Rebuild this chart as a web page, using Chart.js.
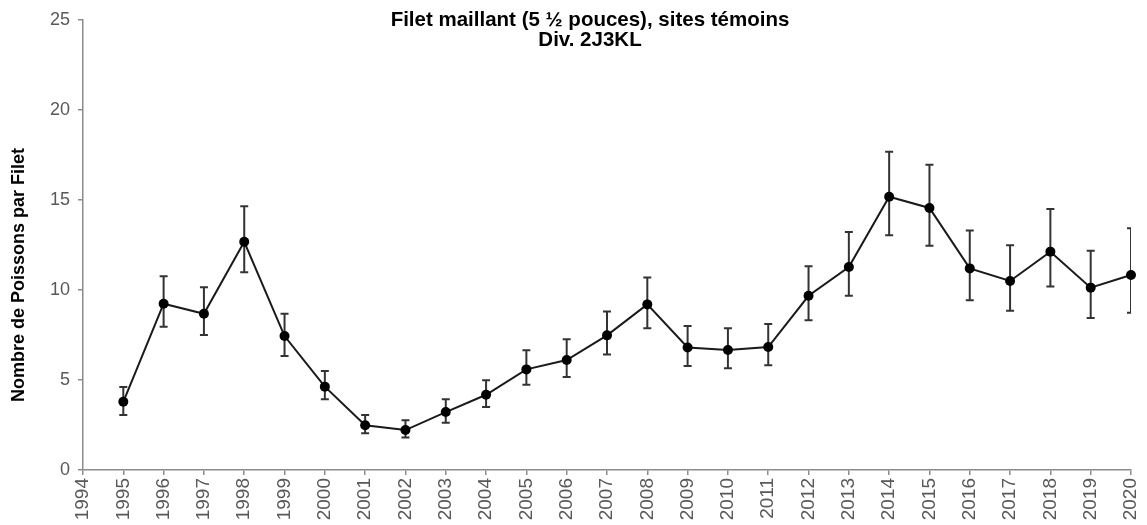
<!DOCTYPE html>
<html>
<head>
<meta charset="utf-8">
<script src="https://cdn.jsdelivr.net/npm/chart.js@4"></script>
<style>
  html, body { margin: 0; padding: 0; background: #fff; }
  #wrap { width: 1147px; height: 525px; }
</style>
</head>
<body>
<div id="wrap"><canvas id="fishChart" width="1147" height="525"></canvas></div>
<script>
const years = [1995, 1996, 1997, 1998, 1999, 2000, 2001, 2002, 2003, 2004, 2005, 2006, 2007,
  2008, 2009, 2010, 2011, 2012, 2013, 2014, 2015, 2016, 2017, 2018, 2019, 2020];
const means = [3.79, 9.24, 8.68, 12.68, 7.44, 4.63, 2.49, 2.22, 3.22, 4.18, 5.59, 6.11, 7.48,
  9.2, 6.81, 6.67, 6.83, 9.68, 11.28, 15.18, 14.56, 11.2, 10.5, 12.13, 10.13, 10.83];
const upper = [4.61, 10.76, 10.15, 14.65, 8.68, 5.5, 3.06, 2.76, 3.93, 4.98, 6.65, 7.26, 8.8,
  10.7, 8.0, 7.87, 8.11, 11.32, 13.22, 17.68, 16.96, 13.3, 12.48, 14.5, 12.18, 13.43];
const lower = [3.06, 7.96, 7.5, 10.98, 6.33, 3.93, 2.04, 1.8, 2.63, 3.5, 4.74, 5.17, 6.41,
  7.87, 5.78, 5.65, 5.82, 8.32, 9.68, 13.04, 12.46, 9.43, 8.85, 10.2, 8.44, 8.74];
const xTicks = [1994, 1995, 1996, 1997, 1998, 1999, 2000, 2001, 2002, 2003, 2004, 2005, 2006, 2007,
  2008, 2009, 2010, 2011, 2012, 2013, 2014, 2015, 2016, 2017, 2018, 2019, 2020];
const yTicks = [0, 5, 10, 15, 20, 25];
const titleLines = ["Filet maillant (5 ½ pouces), sites témoins", "Div. 2J3KL"];
const yTitle = "Nombre de Poissons par Filet";

const FONT = "'Liberation Sans', Arial, sans-serif";
const axisGray = "#8c8c8c";

// error bars drawn from the same scales as the points
const errorBars = {
  id: "errorBars",
  beforeDatasetsDraw(chart) {
    const { ctx, chartArea, scales: { x, y } } = chart;
    ctx.save();
    ctx.beginPath();
    ctx.rect(chartArea.left - 10, 0, chartArea.right - chartArea.left + 10, chart.height);
    ctx.clip();
    ctx.strokeStyle = "#333";
    ctx.lineWidth = 2;
    years.forEach((yr, i) => {
      const px = x.getPixelForValue(yr);
      const top = y.getPixelForValue(upper[i]);
      const bot = y.getPixelForValue(lower[i]);
      ctx.beginPath();
      ctx.moveTo(px, top); ctx.lineTo(px, bot);
      ctx.moveTo(px - 4, top); ctx.lineTo(px + 4, top);
      ctx.moveTo(px - 4, bot); ctx.lineTo(px + 4, bot);
      ctx.stroke();
    });
    ctx.restore();
  }
};

// title block and the y axis label, placed like the original figure
const chartText = {
  id: "chartText",
  afterDraw(chart) {
    const { ctx } = chart;
    ctx.save();
    ctx.fillStyle = "#000";
    ctx.font = "bold 20.5px " + FONT;
    ctx.textAlign = "center";
    ctx.textBaseline = "middle";
    titleLines.forEach((t, i) => ctx.fillText(t, 590, 20 + i * 20));

    ctx.translate(19, 275);
    ctx.rotate(-Math.PI / 2);
    ctx.font = "bold 18px " + FONT;
    ctx.fillText(yTitle, 0, 0);
    ctx.restore();
  }
};

new Chart(document.getElementById("fishChart").getContext("2d"), {
  type: "line",
  data: {
    datasets: [{
      label: "Poissons par filet",
      data: years.map((yr, i) => ({ x: yr, y: means[i] })),
      borderColor: "#1a1a1a",
      backgroundColor: "#000",
      borderWidth: 2,
      pointRadius: 5,
      pointBorderWidth: 0,
      pointBackgroundColor: "#000",
      tension: 0,
      clip: false
    }]
  },
  options: {
    responsive: false,
    animation: false,
    layout: { padding: { left: 0, right: 16, top: 20, bottom: 0 } },
    plugins: { legend: { display: false }, tooltip: { enabled: false } },
    scales: {
      x: {
        type: "linear",
        min: 1994,
        max: 2020,
        afterBuildTicks: s => { s.ticks = xTicks.map(v => ({ value: v })); },
        afterFit: s => { s.height = 55; s.paddingLeft = 0; s.paddingRight = 0; },
        grid: { display: true, drawOnChartArea: false, drawTicks: true, tickLength: 5, color: axisGray, lineWidth: 1.5 },
        border: { display: true, color: axisGray, width: 1.5 },
        ticks: {
          minRotation: 90, maxRotation: 90, autoSkip: false, padding: 3,
          color: "#595959", font: { family: FONT, size: 19 },
          callback: v => String(v)
        }
      },
      y: {
        min: 0,
        max: 25,
        afterBuildTicks: s => { s.ticks = yTicks.map(v => ({ value: v })); },
        afterFit: s => { s.width = 83; s.paddingTop = 0; s.paddingBottom = 0; },
        grid: { display: true, drawOnChartArea: false, drawTicks: true, tickLength: 5, color: axisGray, lineWidth: 1.5 },
        border: { display: true, color: axisGray, width: 1.5 },
        ticks: { color: "#595959", font: { family: FONT, size: 18 }, padding: 8 }
      }
    }
  },
  plugins: [errorBars, chartText]
});
</script>
</body>
</html>
